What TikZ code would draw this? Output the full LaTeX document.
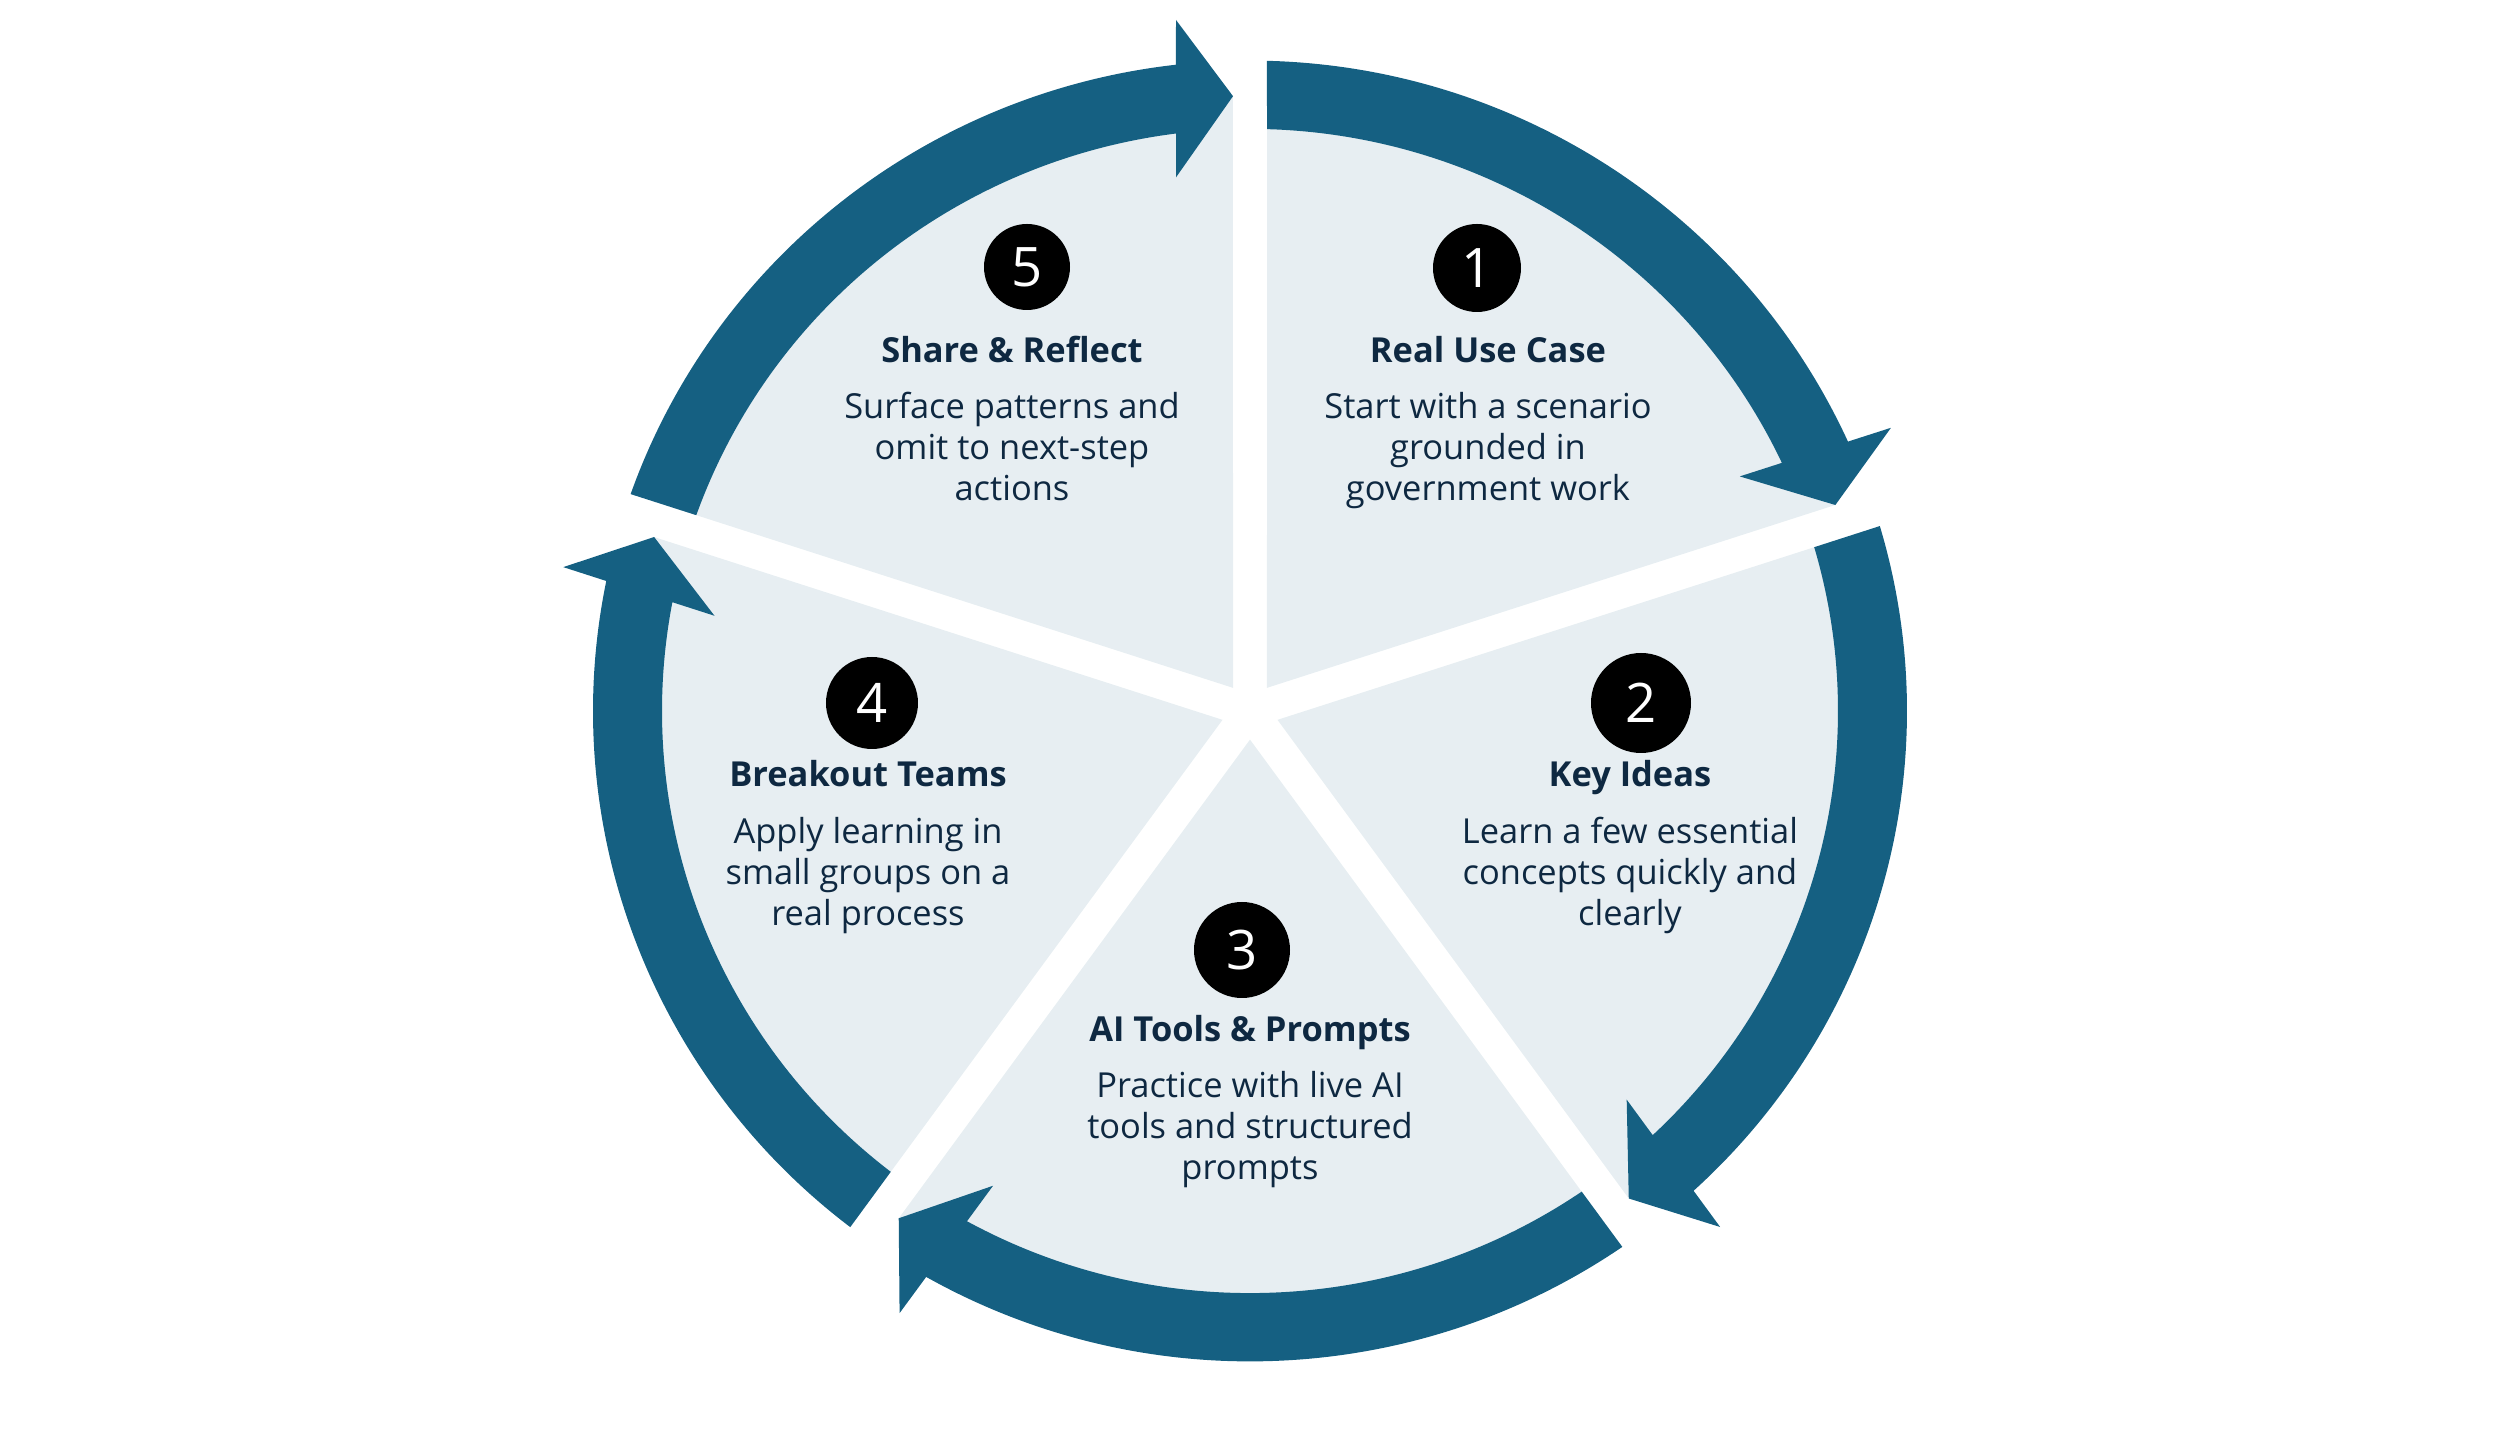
\documentclass[tikz,border=0pt]{standalone}
\usepackage{fontspec}
\setmainfont{Open Sans}
\newfontfamily\digitfont{Open Sans}
\usetikzlibrary{positioning,calc}
\definecolor{RingBlue}{RGB}{21,96,130}
\definecolor{PieLight}{RGB}{231,238,242}
\definecolor{TextNavy}{RGB}{14,40,65}

\begin{document}
\begin{tikzpicture}[
    numdot/.style={circle, fill=black, text=white, inner sep=0pt, font=\digitfont\fontsize{15.5}{15.5}\selectfont},
    stagetitle/.style={anchor=base, text=TextNavy, inner sep=0pt, font=\fontsize{9.8}{11.6}\selectfont\bfseries},
    stagetext/.style={anchor=base, align=center, text=TextNavy, inner sep=0pt, font=\fontsize{9.8}{11.6}\selectfont}
  ]
  \useasboundingbox (-12.50,-7.30) rectangle (12.50,7.11);

  \begin{scope}[yscale=0.99]
    % light pie pieces
    \foreach \k in {0,...,4}{
      \begin{scope}[rotate=-72*\k]
        \fill[PieLight] (54:0.289) -- (88.43:6.22) arc[start angle=88.43, end angle=19.57, radius=6.22] -- cycle;
      \end{scope}
    }
    % ring arrows, clockwise
    \foreach \k in {0,...,4}{
      \begin{scope}[rotate=-72*\k]
        \fill[RingBlue] (88.52:6.57) arc[start angle=88.52, end angle=24.47, radius=6.57]
          -- ($(18:6.98)+(108:0.74)$) -- ($(18:6.21)+(108:0.17)$) -- ($(18:5.39)+(108:0.74)$)
          -- (25.23:5.88) arc[start angle=25.23, end angle=88.34, radius=5.88] -- cycle;
      \end{scope}
    }
  \end{scope}

  \node[numdot, minimum size=0.88cm] (num1) at (2.27,4.43) {1};
  \node[stagetitle] (title1) at (2.38,3.48) {Real Use Case};
  \node[stagetext] (desc1) at (2.38,2.105) {Start with a scenario\\grounded in\\government work};

  \node[numdot, minimum size=1.0cm] (num2) at (3.91,0.08) {2};
  \node[stagetitle] (title2) at (3.80,-0.76) {Key Ideas};
  \node[stagetext] (desc2) at (3.80,-2.145) {Learn a few essential\\concepts quickly and\\clearly};

  \node[numdot, minimum size=0.96cm] (num3) at (-0.08,-2.39) {3};
  \node[stagetitle] (title3) at (0,-3.31) {AI Tools \& Prompts};
  \node[stagetext] (desc3) at (0,-4.685) {Practice with live AI\\tools and structured\\prompts};

  \node[numdot, minimum size=0.92cm] (num4) at (-3.78,0.08) {4};
  \node[stagetitle] (title4) at (-3.82,-0.76) {Breakout Teams};
  \node[stagetext] (desc4) at (-3.82,-2.145) {Apply learning in\\small groups on a\\real process};

  \node[numdot, minimum size=0.86cm] (num5) at (-2.23,4.44) {5};
  \node[stagetitle] (title5) at (-2.38,3.48) {Share \& Reflect};
  \node[stagetext] (desc5) at (-2.38,2.105) {Surface patterns and\\omit to next-step\\actions};
\end{tikzpicture}
\end{document}
